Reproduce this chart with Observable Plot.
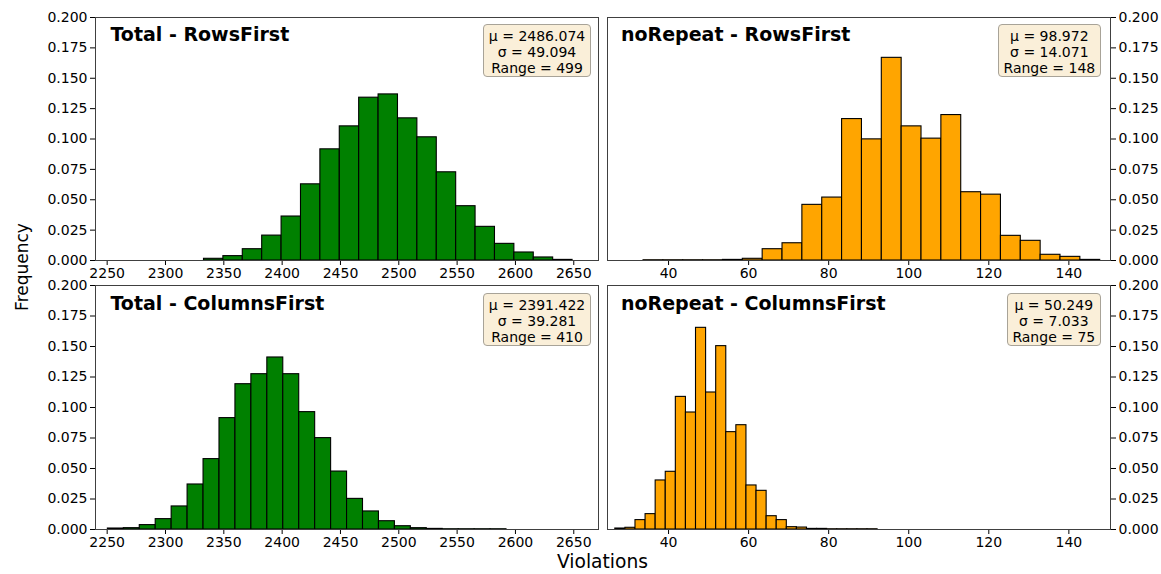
<!DOCTYPE html>
<html><head><meta charset="utf-8">
<script src="https://cdn.jsdelivr.net/npm/d3@7"></script>
<script src="https://cdn.jsdelivr.net/npm/@observablehq/plot@0.6"></script>
<style>
body{margin:0;background:#fff;}
#fig{position:relative;width:1161px;height:574px;font-family:"DejaVu Sans",sans-serif;overflow:hidden;background:#fff;}
#fig svg{position:absolute;left:0;top:0;}
#fig svg text{font-size:14px;font-family:"DejaVu Sans",sans-serif;fill:#000;}
.title{position:absolute;font-weight:bold;font-size:19px;line-height:1;white-space:nowrap;color:#000;}
.stats{position:absolute;font-size:14px;line-height:16px;text-align:center;background:#faefd9;border:1px solid #a8a398;border-radius:4px;padding:3px 4.5px 0px 4.5px;white-space:nowrap;color:#000;}
.lab{position:absolute;white-space:nowrap;line-height:1;color:#000;}
</style></head><body><div id="fig"></div>
<script>
// ---- data (bin lower edge start, bin width, frequencies) ----
const totalRowsStart = 2333, totalRowsWidth = 16.63;
const totalRowsFreq = [0.0014,0.0036,0.0093,0.0205,0.0362,0.0627,0.0915,0.1104,0.134,0.1367,0.117,0.1014,0.0726,0.0447,0.0277,0.0137,0.0066,0.0025,0.0005];

const noRepRowsStart = 33.75, noRepRowsWidth = 4.96;
const noRepRowsFreq = [0.0002,0.0002,0.0002,0.0002,0.0005,0.0014,0.0093,0.0142,0.0458,0.0518,0.1164,0.0997,0.1668,0.1104,0.1003,0.1197,0.0562,0.0542,0.0203,0.0162,0.0047,0.003,0.0005];

const totalColsStart = 2250.6, totalColsWidth = 13.67;
const totalColsFreq = [0.0008,0.0011,0.0036,0.0085,0.0189,0.0369,0.0577,0.0913,0.1191,0.1273,0.141,0.1273,0.0962,0.0749,0.0475,0.0251,0.0148,0.0068,0.0027,0.0011,0.0005,0.0002,0.0002,0.0002,0.0002];

const noRepColsStart = 26.7, noRepColsWidth = 2.52;
const noRepColsFreq = [0.0008,0.0014,0.0077,0.0126,0.0402,0.0473,0.1087,0.0959,0.1653,0.1123,0.1503,0.0798,0.0855,0.0361,0.0317,0.0109,0.0077,0.0019,0.0016,0.0005,0.0005,0.0002,0.0002,0.0002,0.0002,0.0002];

const titles = ["Total - RowsFirst", "noRepeat - RowsFirst", "Total - ColumnsFirst", "noRepeat - ColumnsFirst"];
const statLines = [
  ["μ = 2486.074", "σ = 49.094", "Range = 499"],
  ["μ = 98.972", "σ = 14.071", "Range = 148"],
  ["μ = 2391.422", "σ = 39.281", "Range = 410"],
  ["μ = 50.249", "σ = 7.033", "Range = 75"]
];
const totalTicks = [2250, 2300, 2350, 2400, 2450, 2500, 2550, 2600, 2650];
const noRepTicks = [40, 60, 80, 100, 120, 140];
const yTicks = [0, 0.025, 0.05, 0.075, 0.1, 0.125, 0.15, 0.175, 0.2];
const xLabel = "Violations", yLabel = "Frequency";

// ---- build ----
const W = 1161, H = 574;
const fig = document.getElementById("fig");
function bins(start, width, freq) {
  return freq.map((f, i) => ({x1: start + i * width, x2: start + (i + 1) * width, f}));
}
function panel(data, domain, ticks, color, m, yAnchor) {
  return Plot.plot({
    width: W, height: H,
    marginLeft: m[0], marginRight: m[1], marginTop: m[2], marginBottom: m[3],
    style: {background: "transparent", fontFamily: "DejaVu Sans, sans-serif", fontSize: "14px", color: "black", overflow: "visible"},
    x: {domain, ticks, tickSize: 5, tickPadding: 3, tickFormat: d3.format("d"), label: null},
    y: {domain: [0, 0.2], ticks: yTicks, axis: yAnchor, tickSize: 5, tickPadding: 3, tickFormat: d3.format(".3f"), label: null},
    marks: [
      Plot.rectY(data, {x1: "x1", x2: "x2", y: "f", fill: color, stroke: "black", strokeWidth: 1.1, inset: 0}),
      Plot.frame({stroke: "#404040", strokeWidth: 1})
    ]
  });
}
const totalDomain = [2240, 2671.2];
const noRepDomain = [24.75, 150.4];
const green = "#008000", orange = "#ffa500";
fig.appendChild(panel(bins(totalRowsStart, totalRowsWidth, totalRowsFreq), totalDomain, totalTicks, green, [95, 563, 17, 314], "left"));
fig.appendChild(panel(bins(noRepRowsStart, noRepRowsWidth, noRepRowsFreq), noRepDomain, noRepTicks, orange, [607, 51, 17, 314], "right"));
fig.appendChild(panel(bins(totalColsStart, totalColsWidth, totalColsFreq), totalDomain, totalTicks, green, [95, 563, 285, 45], "left"));
fig.appendChild(panel(bins(noRepColsStart, noRepColsWidth, noRepColsFreq), noRepDomain, noRepTicks, orange, [607, 51, 285, 45], "right"));

// titles
const titlePos = [[110.4, 25.4], [621, 25.4], [110.4, 294.4], [621, 294.4]];
titles.forEach((t, i) => {
  const d = document.createElement("div");
  d.className = "title"; d.textContent = t;
  d.style.left = titlePos[i][0] + "px"; d.style.top = titlePos[i][1] + "px";
  fig.appendChild(d);
});
// stats boxes (right edge, top)
const boxPos = [[590.7, 24.3], [1100.7, 24.3], [590.7, 293.3], [1100.7, 293.3]];
statLines.forEach((lines, i) => {
  const d = document.createElement("div");
  d.className = "stats";
  d.innerHTML = lines.join("<br>");
  d.style.right = (W - boxPos[i][0]) + "px"; d.style.top = boxPos[i][1] + "px";
  fig.appendChild(d);
});
// axis labels
const xl = document.createElement("div");
xl.className = "lab"; xl.textContent = xLabel;
xl.style.fontSize = "18.67px"; xl.style.left = "602.5px"; xl.style.top = "552.5px"; xl.style.transform = "translateX(-50%)";
fig.appendChild(xl);
const yl = document.createElement("div");
yl.className = "lab"; yl.textContent = yLabel;
yl.style.fontSize = "17px"; yl.style.left = "22.3px"; yl.style.top = "266.5px";
yl.style.transform = "translate(-50%,-50%) rotate(-90deg)";
fig.appendChild(yl);
</script></body></html>
